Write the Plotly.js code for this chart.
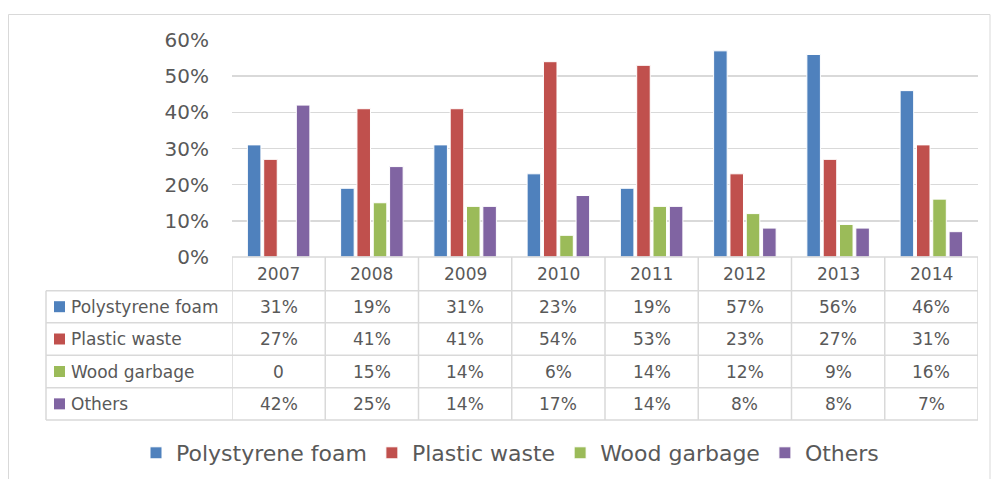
<!DOCTYPE html>
<html>
<head>
<meta charset="utf-8">
<script src="https://cdn.plot.ly/plotly-3.0.1.min.js"></script>
<style>html,body{margin:0;padding:0;background:#fff;}#chart{width:991px;height:479px;}</style>
</head>
<body>
<div id="chart"></div>
<script>
const years = ['2007','2008','2009','2010','2011','2012','2013','2014'];
const seriesNames = ['Polystyrene foam','Plastic waste','Wood garbage','Others'];
const polystyrene = [0.31,0.19,0.31,0.23,0.19,0.57,0.56,0.46];
const plastic = [0.27,0.41,0.41,0.54,0.53,0.23,0.27,0.31];
const wood = [0,0.15,0.14,0.06,0.14,0.12,0.09,0.16];
const others = [0.42,0.25,0.14,0.17,0.14,0.08,0.08,0.07];
const tableLabels = [
  ['31%','19%','31%','23%','19%','57%','56%','46%'],
  ['27%','41%','41%','54%','53%','23%','27%','31%'],
  ['0','15%','14%','6%','14%','12%','9%','16%'],
  ['42%','25%','14%','17%','14%','8%','8%','7%']
];
const colors = ['#4F81BD','#C0504D','#9BBB59','#8064A2'];
const values = [polystyrene, plastic, wood, others];

const FONT = 'DejaVu Sans, Noto Sans, sans-serif';
const TXT = '#595959';
const GRID = '#d9d9d9';
// plot area in pixels
const L = 232, R = 978, T = 40, B = 257;
const W = 991, H = 479;
const px = x => (x - L) / (R - L);
const py = y => (B - y) / (B - T);

const traces = seriesNames.map((n, i) => ({
  type: 'bar', name: n, x: years, y: values[i],
  marker: {color: colors[i], line: {color: '#ffffff', width: 1}},
  hoverinfo: 'none'
}));

const shapes = [];
const annotations = [];
// outer border
shapes.push({type:'rect', xref:'paper', yref:'paper', x0:px(8.5), x1:px(990), y0:py(14.5), y1:py(490), line:{color:GRID, width:1}, fillcolor:'rgba(0,0,0,0)'});
// table geometry
const tableLeft = 46;
const rowLines = [290.7, 322.7, 355.3, 387.7, 420];
// header top (axis line)
shapes.push({type:'line', xref:'x', yref:'paper', x0:-0.5, x1:years.length-0.5, y0:0, y1:0, line:{color:GRID, width:1.5}});
// horizontal row lines
rowLines.forEach(y => shapes.push({type:'line', xref:'paper', yref:'paper', x0:px(tableLeft), x1:1, y0:py(y), y1:py(y), line:{color:GRID, width:1.5}}));
// vertical lines at category boundaries
for (let k = 0; k <= years.length; k++) {
  shapes.push({type:'line', xref:'x', yref:'paper', x0:k-0.5, x1:k-0.5, y0:0, y1:py(420), line:{color:GRID, width:1.5}});
}
// left edge of label column
shapes.push({type:'line', xref:'paper', yref:'paper', x0:px(tableLeft), x1:px(tableLeft), y0:py(290.7), y1:py(420), line:{color:GRID, width:1.5}});

// header years
years.forEach((yr, j) => annotations.push({xref:'x', yref:'paper', x:j, y:py(273.5), text:yr, showarrow:false, font:{family:FONT, size:17, color:TXT}, xanchor:'center', yanchor:'middle'}));
// rows
const rowTops = [290.7, 322.7, 355.3, 387.7];
seriesNames.forEach((n, i) => {
  const yc = (rowTops[i] + rowLines[i+1]) / 2;
  shapes.push({type:'rect', xref:'paper', yref:'paper', x0:px(54), x1:px(65), y0:py(yc-5.5), y1:py(yc+5.5), fillcolor:colors[i], line:{width:0}});
  annotations.push({xref:'paper', yref:'paper', x:px(69), y:py(yc), text:n, showarrow:false, font:{family:FONT, size:17, color:TXT}, xanchor:'left', yanchor:'middle'});
  tableLabels[i].forEach((t, j) => annotations.push({xref:'x', yref:'paper', x:j, y:py(yc), text:t, showarrow:false, font:{family:FONT, size:17, color:TXT}, xanchor:'center', yanchor:'middle'}));
});

const layout = {
  width: W, height: H,
  margin: {l: L, r: W - R, t: T, b: H - B, autoexpand: false},
  paper_bgcolor: '#ffffff', plot_bgcolor: '#ffffff',
  barmode: 'group', bargap: 0.3, bargroupgap: 0.17,
  showlegend: true,
  legend: {orientation:'h', x: px(510), xanchor:'center', y: py(453), yanchor:'middle', font:{family:FONT, size:22, color:TXT}, itemclick:false, traceorder:'normal'},
  xaxis: {type:'category', range:[-0.5, years.length-0.5], showticklabels:false, showgrid:false, zeroline:false, showline:false, ticks:''},
  yaxis: {range:[0, 0.6], dtick:0.1, tickformat:'.0%', showgrid:true, gridcolor:GRID, gridwidth:1.5, zeroline:false, showline:false, ticks:'', ticklabelstandoff:22, tickfont:{family:FONT, size:20, color:TXT}},
  shapes: shapes,
  annotations: annotations
};
Plotly.newPlot('chart', traces, layout, {displayModeBar:false, staticPlot:true});
</script>
</body>
</html>
